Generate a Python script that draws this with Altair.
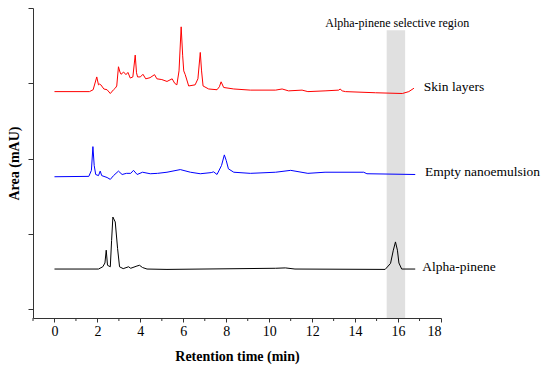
import altair as alt
import pandas as pd

# Skin layers (red)
red_t = [0, 1.63, 1.8, 1.97, 2.05, 2.1, 2.16, 2.3, 2.45, 2.6, 2.75, 2.83, 2.9, 2.98, 3.05, 3.1,
         3.22, 3.33, 3.42, 3.53, 3.65, 3.76, 3.82, 3.87, 4.0, 4.12, 4.25, 4.45, 4.66, 4.77, 5.0,
         5.24, 5.48, 5.6, 5.7, 5.8, 5.9, 5.97, 6.02, 6.09, 6.25, 6.55, 6.68, 6.79, 6.85, 6.92,
         7.18, 7.57, 7.68, 7.76, 7.88, 8.35, 9.12, 10.3, 10.6, 10.9, 11.53, 11.8, 12.6, 13.24,
         13.3, 13.4, 13.55, 14.95, 16.2, 16.5, 16.74]
red_v = [5.78, 5.78, 5.83, 6.17, 5.96, 5.98, 5.96, 5.85, 5.83, 5.73, 5.83, 5.87, 5.93, 6.44, 6.30, 6.24,
         6.30, 6.23, 6.29, 6.14, 6.17, 6.75, 6.28, 6.17, 6.17, 6.24, 6.12, 6.15, 6.23, 6.12, 6.10,
         6.05, 6.12, 6.00, 5.96, 6.33, 7.50, 6.73, 6.33, 6.23, 5.93, 5.96, 6.12, 6.82, 6.33, 5.93,
         5.85, 5.83, 5.91, 6.04, 5.89, 5.85, 5.82, 5.82, 5.85, 5.80, 5.82, 5.78, 5.80, 5.82,
         5.85, 5.80, 5.78, 5.75, 5.73, 5.78, 5.87]

# Empty nanoemulsion (blue)
blue_t = [0, 1.6, 1.72, 1.79, 1.85, 1.92, 2.05, 2.13, 2.2, 2.45, 2.6, 2.75, 2.98, 3.15, 3.35, 3.55,
          3.68, 3.85, 4.1, 4.46, 4.8, 5.24, 5.86, 6.33, 6.79, 7.3, 7.41, 7.57, 7.78, 7.91, 8.0,
          8.1, 8.35, 9.12, 10.3, 11.0, 11.8, 12.6, 14.4, 14.55, 16.8]
blue_v = [3.52, 3.53, 3.69, 4.32, 3.82, 3.58, 3.55, 3.67, 3.55, 3.50, 3.45, 3.55, 3.67, 3.58, 3.61, 3.61,
          3.69, 3.58, 3.64, 3.60, 3.61, 3.64, 3.71, 3.64, 3.60, 3.63, 3.65, 3.58, 3.82, 4.10, 3.95,
          3.73, 3.64, 3.61, 3.64, 3.69, 3.61, 3.64, 3.64, 3.60, 3.58]

# Alpha-pinene (black)
black_t = [0, 2.05, 2.25, 2.35, 2.41, 2.47, 2.6, 2.66, 2.72, 2.83, 2.94, 3.03, 3.2, 3.45, 3.55,
           3.84, 3.96, 4.1, 4.31, 5.24, 10.3, 10.75, 11.2, 15.4, 15.65, 15.78, 15.88, 15.97,
           16.04, 16.17, 16.8]
black_v = [1.07, 1.07, 1.13, 1.23, 1.57, 1.17, 1.13, 1.83, 2.45, 2.32, 1.61, 1.13, 1.08, 1.13, 1.09,
           1.15, 1.17, 1.11, 1.07, 1.06, 1.09, 1.10, 1.07, 1.06, 1.22, 1.57, 1.79, 1.57,
           1.23, 1.07, 1.07]

series_names = ["Skin layers", "Empty nanoemulsion", "Alpha-pinene"]
series_colors = ["#ff0000", "#0000ff", "#000000"]
label_t = [17.2, 17.25, 17.13]
label_v = [5.89, 3.64, 1.13]

band_start, band_end = 15.47, 16.33
band_top = 7.41
band_label = "Alpha-pinene selective region"
band_label_t, band_label_v = 15.96, 7.61

x_domain = [-1, 18]
y_domain = [-0.23, 8]
x_major = list(range(0, 19, 2))
x_minor = list(range(-1, 18, 2))
y_ticks = list(range(0, 9))

FONT = "Liberation Serif"
AXIS_COLOR = "#333333"
W, H = 408, 310

rows = []
for name, ts, vs in zip(series_names, [red_t, blue_t, black_t], [red_v, blue_v, black_v]):
    for i, (t, v) in enumerate(zip(ts, vs)):
        rows.append({"series": name, "t": t, "v": v, "i": i})
df = pd.DataFrame(rows)

xs = alt.Scale(domain=x_domain, nice=False, zero=False)
ys = alt.Scale(domain=y_domain, nice=False, zero=False)

x_axis = alt.Axis(values=x_major, tickSize=4, grid=False, labelFont=FONT, labelFontSize=14,
                  labelColor="black", labelPadding=2, title="Retention time (min)",
                  titleFont=FONT, titleFontSize=14, titleFontWeight="bold", titleColor="black",
                  titlePadding=11, domainColor=AXIS_COLOR, tickColor=AXIS_COLOR)
y_axis = alt.Axis(values=y_ticks, labels=False, tickSize=5, grid=False,
                  title="Area (mAU)", titleFont=FONT, titleFontSize=14,
                  titleFontWeight="bold", titleColor="black", titlePadding=6,
                  domainColor=AXIS_COLOR, tickColor=AXIS_COLOR)

band_df = pd.DataFrame({"x": [band_start], "x2": [band_end], "y": [y_domain[0]], "y2": [band_top]})
band = alt.Chart(band_df).mark_rect(color="#e0e0e0").encode(
    x=alt.X("x:Q", scale=xs, axis=x_axis),
    x2="x2:Q",
    y=alt.Y("y:Q", scale=ys, axis=y_axis),
    y2="y2:Q",
)

lines = alt.Chart(df).mark_line(strokeWidth=1).encode(
    x=alt.X("t:Q", scale=xs, axis=x_axis),
    y=alt.Y("v:Q", scale=ys, axis=y_axis),
    color=alt.Color("series:N", scale=alt.Scale(domain=series_names, range=series_colors), legend=None),
    order="i:Q",
)

minor_df = pd.DataFrame({"t": x_minor})
minor = alt.Chart(minor_df).mark_rule(color=AXIS_COLOR, strokeWidth=1).encode(
    x=alt.X("t:Q", scale=xs),
    y=alt.value(H),
    y2=alt.value(H + 3),
)

lab_df = pd.DataFrame({"name": series_names, "t": label_t, "v": label_v})
labels = alt.Chart(lab_df).mark_text(align="left", baseline="middle", font=FONT,
                                      fontSize=13.5, color="black").encode(
    x=alt.X("t:Q", scale=xs), y=alt.Y("v:Q", scale=ys), text="name:N")

bl_df = pd.DataFrame({"name": [band_label], "t": [band_label_t], "v": [band_label_v]})
band_text = alt.Chart(bl_df).mark_text(align="center", baseline="middle", font=FONT,
                                        fontSize=12, color="black").encode(
    x=alt.X("t:Q", scale=xs), y=alt.Y("v:Q", scale=ys), text="name:N")

chart = alt.layer(band, lines, minor, labels, band_text).properties(
    width=W, height=H, autosize="none",
    padding={"left": 25, "top": 0, "right": 101, "bottom": 50},
).configure_view(stroke=None)

chart.save("out.html", embed_options={"renderer": "svg", "actions": False})
